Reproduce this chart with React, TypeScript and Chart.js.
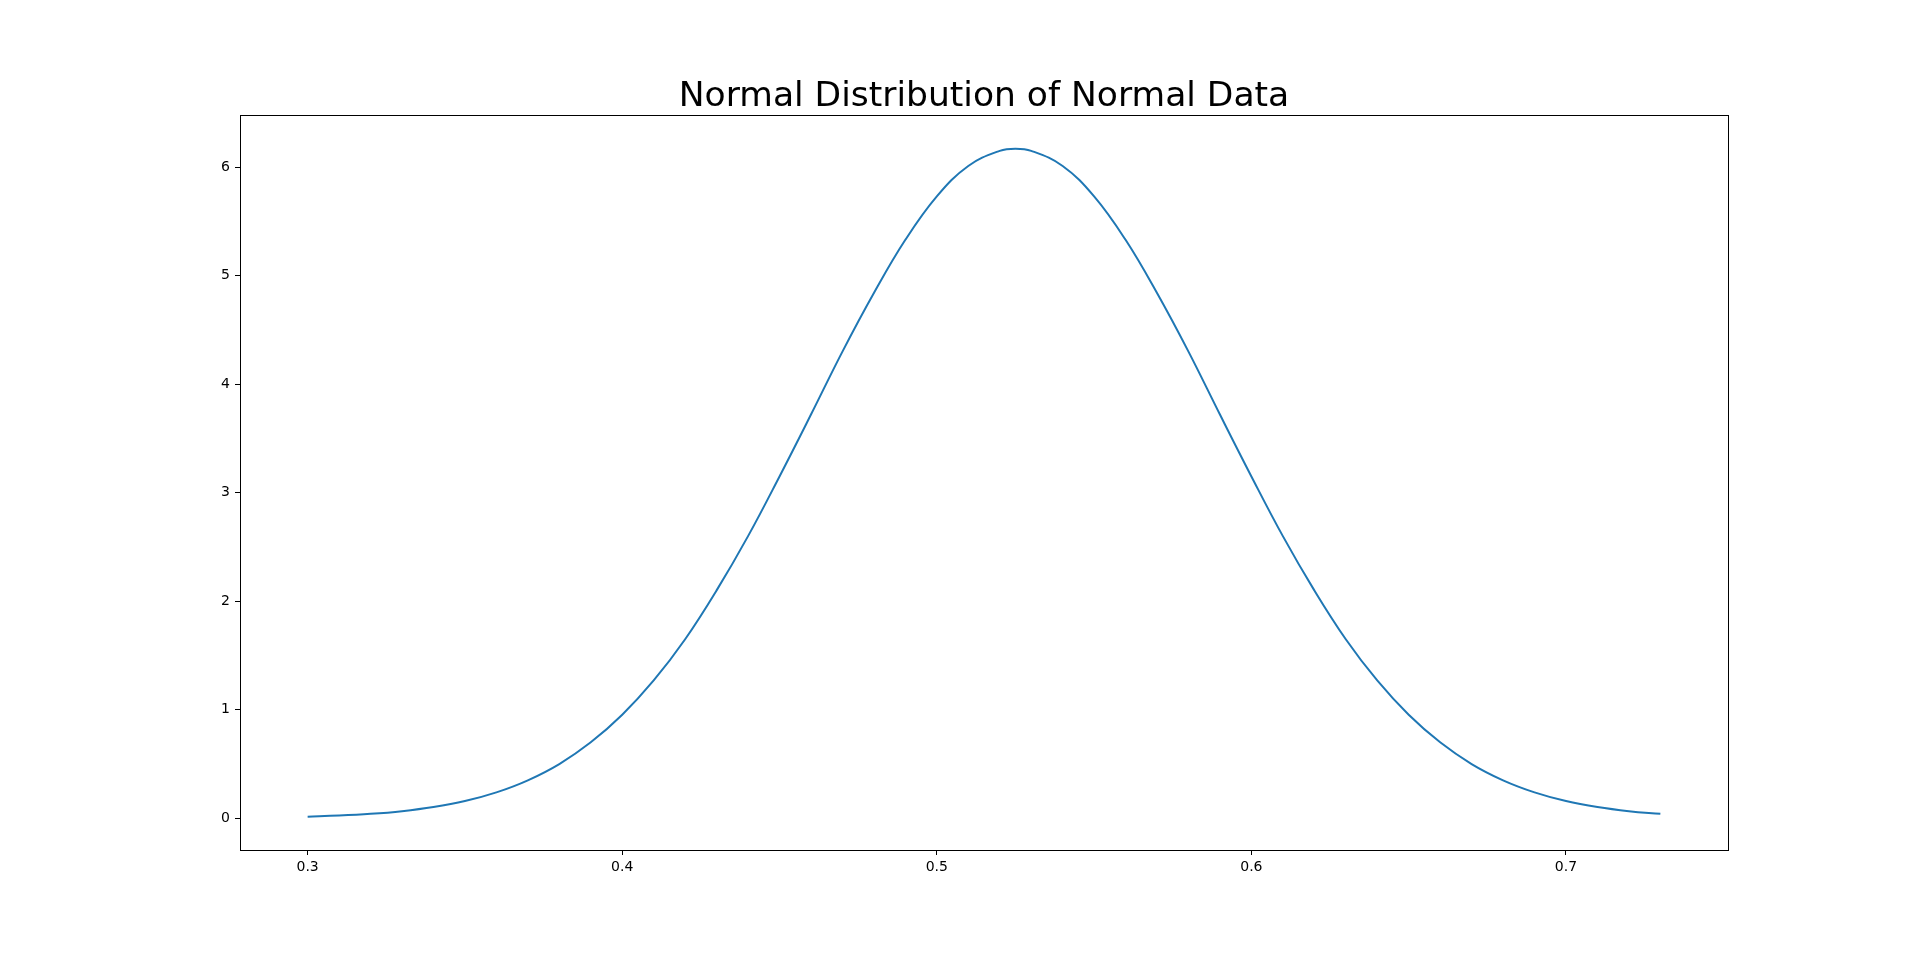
import React, { useEffect, useRef } from "react";
import { Chart, registerables } from "chart.js";

Chart.register(...registerables);

const TITLE = "Normal Distribution of Normal Data";

// x values (sample positions)
const xValues = [
  0.30, 0.31, 0.32, 0.33, 0.34, 0.35, 0.36, 0.37, 0.38, 0.39,
  0.40, 0.41, 0.42, 0.43, 0.44, 0.45, 0.46, 0.47, 0.48, 0.49,
  0.50, 0.51, 0.52, 0.525, 0.53, 0.54, 0.55, 0.56, 0.57, 0.58, 0.59,
  0.60, 0.61, 0.62, 0.63, 0.64, 0.65, 0.66, 0.67, 0.68, 0.69,
  0.70, 0.71, 0.72, 0.73,
];

// density values
const densityValues = [
  0.015, 0.025, 0.041, 0.066, 0.104, 0.159, 0.239, 0.35, 0.50, 0.70,
  0.954, 1.27, 1.65, 2.10, 2.60, 3.15, 3.72, 4.30, 4.84, 5.33,
  5.73, 6.01, 6.15, 6.17, 6.15, 6.01, 5.73, 5.33, 4.84, 4.30, 3.72,
  3.15, 2.60, 2.10, 1.65, 1.27, 0.954, 0.70, 0.50, 0.35, 0.239,
  0.159, 0.104, 0.066, 0.041,
];

const xTicks = [0.3, 0.4, 0.5, 0.6, 0.7];
const yTicks = [0, 1, 2, 3, 4, 5, 6];

const X_MIN = 0.2785;
const X_MAX = 0.7515;
const Y_MIN = -0.292;
const Y_MAX = 6.48;

const FONT = "'DejaVu Sans', sans-serif";

export default function App() {
  const ref = useRef<HTMLCanvasElement | null>(null);

  useEffect(() => {
    document.body.style.margin = "0";
    const canvas = ref.current;
    if (!canvas) return;

    const framePlugin = {
      id: "frame",
      afterDraw(chart: any) {
        const { ctx, chartArea } = chart;
        ctx.save();
        ctx.strokeStyle = "#000";
        ctx.lineWidth = 1;
        ctx.strokeRect(
          Math.round(chartArea.left) + 0.5,
          Math.round(chartArea.top) + 0.5,
          Math.round(chartArea.right - chartArea.left),
          Math.round(chartArea.bottom - chartArea.top)
        );
        ctx.fillStyle = "#000";
        ctx.font = `34.5px ${FONT}`;
        ctx.textAlign = "center";
        ctx.textBaseline = "alphabetic";
        ctx.fillText(TITLE, (chartArea.left + chartArea.right) / 2, 106);
        ctx.restore();
      },
    };

    const chart = new Chart(canvas, {
      type: "line",
      data: {
        datasets: [
          {
            data: xValues.map((x, i) => ({ x, y: densityValues[i] })),
            borderColor: "#1f77b4",
            borderWidth: 2,
            pointRadius: 0,
            fill: false,
            tension: 0.4,
          },
        ],
      },
      options: {
        responsive: false,
        animation: false,
        layout: { padding: { left: 0, right: 192, top: 115, bottom: 0 } },
        plugins: {
          legend: { display: false },
          title: { display: false },
          tooltip: { enabled: false },
        },
        scales: {
          x: {
            type: "linear",
            min: X_MIN,
            max: X_MAX,
            afterBuildTicks: (scale: any) => {
              scale.ticks = xTicks.map((v) => ({ value: v }));
            },
            afterFit: (scale: any) => {
              scale.height = 105;
            },
            grid: {
              drawOnChartArea: false,
              drawTicks: true,
              tickLength: 5,
              color: "#000",
            },
            border: { display: false },
            ticks: {
              color: "#000",
              font: { family: FONT, size: 14 },
              padding: 4,
              maxRotation: 0,
              autoSkip: false,
              callback: (v: any) => String(v),
            },
          },
          y: {
            type: "linear",
            min: Y_MIN,
            max: Y_MAX,
            afterBuildTicks: (scale: any) => {
              scale.ticks = yTicks.map((v) => ({ value: v }));
            },
            afterFit: (scale: any) => {
              scale.width = 240;
            },
            grid: {
              drawOnChartArea: false,
              drawTicks: true,
              tickLength: 5,
              color: "#000",
            },
            border: { display: false },
            ticks: {
              color: "#000",
              font: { family: FONT, size: 14 },
              padding: 5,
              autoSkip: false,
              callback: (v: any) => String(v),
            },
          },
        },
      },
      plugins: [framePlugin],
    } as any);

    return () => chart.destroy();
  }, []);

  return (
    <div style={{ position: "absolute", left: 0, top: 0, width: 1920, height: 955, background: "#fff" }}>
      <canvas ref={ref} width={1920} height={955} style={{ width: 1920, height: 955 }} />
    </div>
  );
}
